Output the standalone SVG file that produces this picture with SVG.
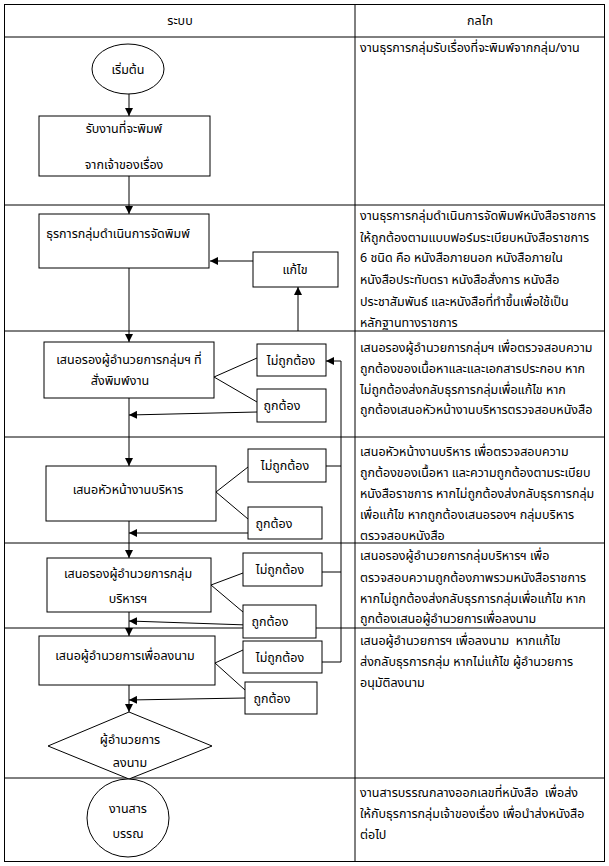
<svg xmlns="http://www.w3.org/2000/svg" width="609" height="866" viewBox="0 0 609 866">
<style>
text{font-family:"Noto Sans Thai","Tahoma","Loma","Garuda","Liberation Sans",sans-serif;font-size:12.5px;fill:#000}
.c{text-anchor:middle}
.sh{fill:#fff;stroke:#000;stroke-width:1}
.ln{fill:none;stroke:#000;stroke-width:1}
.ar{fill:none;stroke:#000;stroke-width:1;marker-end:url(#ah)}
</style>
<defs>
<marker id="ah" viewBox="0 0 10 10" refX="10" refY="5" markerWidth="8" markerHeight="8" markerUnits="userSpaceOnUse" orient="auto">
<path d="M0,0 L10,5 L0,10 z" fill="#000"/>
</marker>
</defs>
<rect width="609" height="866" fill="#fff"/>
<g id="table">
<rect x="4.5" y="4.5" width="600" height="857" class="ln"/>
<line x1="355" y1="4" x2="355" y2="862" class="ln"/>
<line x1="4" y1="37" x2="605" y2="37" class="ln"/>
<line x1="4" y1="205" x2="605" y2="205" class="ln"/>
<line x1="4" y1="331" x2="605" y2="331" class="ln"/>
<line x1="4" y1="437" x2="605" y2="437" class="ln"/>
<line x1="4" y1="543" x2="605" y2="543" class="ln"/>
<line x1="4" y1="628" x2="605" y2="628" class="ln"/>
<line x1="4" y1="778" x2="605" y2="778" class="ln"/>
<text x="180" y="25" class="c">ระบบ</text>
<text x="480" y="25" class="c">กลไก</text>
</g>
<g id="connectors">
<line x1="129" y1="94" x2="129" y2="116" class="ar"/>
<line x1="129" y1="176" x2="129" y2="214" class="ar"/>
<line x1="129" y1="268" x2="129" y2="342" class="ar"/>
<line x1="129" y1="398" x2="129" y2="466" class="ar"/>
<line x1="129" y1="521" x2="129" y2="558" class="ar"/>
<line x1="129" y1="612" x2="129" y2="636" class="ar"/>
<line x1="129" y1="685" x2="129" y2="712" class="ar"/>
<line x1="253" y1="261" x2="210" y2="261" class="ar"/>
<line x1="298" y1="331" x2="298" y2="287" class="ar"/>
<line x1="214" y1="377" x2="257" y2="358" class="ln"/>
<line x1="214" y1="377" x2="257" y2="402" class="ln"/>
<line x1="257" y1="412" x2="129" y2="415" class="ar"/>
<line x1="216" y1="492" x2="248" y2="467" class="ln"/>
<line x1="216" y1="492" x2="248" y2="519" class="ln"/>
<line x1="248" y1="533" x2="129" y2="533" class="ar"/>
<line x1="211" y1="585" x2="243" y2="573" class="ln"/>
<line x1="211" y1="585" x2="243" y2="612" class="ln"/>
<line x1="248" y1="625" x2="129" y2="621" class="ar"/>
<line x1="215" y1="663" x2="243" y2="650" class="ln"/>
<line x1="215" y1="663" x2="245" y2="690" class="ln"/>
<line x1="245" y1="698" x2="129" y2="700" class="ar"/>
<polyline points="322,662 341,662 341,361 326,361" class="ar"/>
<line x1="326" y1="466" x2="341" y2="466" class="ln"/>
<line x1="322" y1="572" x2="341" y2="572" class="ln"/>
</g>
<g id="start"><ellipse cx="128" cy="69" rx="36" ry="25" class="sh"/><text x="128" y="74" class="c">เริ่มต้น</text></g>
<g id="receive"><rect x="39" y="116" width="171" height="60" class="sh"/><text x="124" y="133" class="c">รับงานที่จะพิมพ์</text><text x="124" y="169" class="c">จากเจ้าของเรื่อง</text></g>
<g id="print"><rect x="39" y="214" width="170" height="54" class="sh"/><text x="118" y="238" class="c">ธุรการกลุ่มดำเนินการจัดพิมพ์</text></g>
<g id="fix"><rect x="253" y="252" width="85" height="35" class="sh"/><text x="295" y="274" class="c">แก้ไข</text></g>
<g id="deputy"><rect x="44" y="342" width="170" height="56" class="sh"/><text x="129" y="364" class="c">เสนอรองผู้อำนวยการกลุ่มฯ ที่</text><text x="120" y="385" class="c">สั่งพิมพ์งาน</text></g>
<g id="no1"><rect x="257" y="344" width="69" height="32" class="sh"/><text x="291" y="365" class="c">ไม่ถูกต้อง</text></g>
<g id="ok1"><rect x="257" y="389" width="69" height="33" class="sh"/><text x="282" y="410" class="c">ถูกต้อง</text></g>
<g id="head"><rect x="46" y="466" width="170" height="55" class="sh"/><text x="128" y="494" class="c">เสนอหัวหน้างานบริหาร</text></g>
<g id="no2"><rect x="248" y="449" width="78" height="33" class="sh"/><text x="285" y="470" class="c">ไม่ถูกต้อง</text></g>
<g id="ok2"><rect x="248" y="507" width="74" height="32" class="sh"/><text x="274" y="528" class="c">ถูกต้อง</text></g>
<g id="admin"><rect x="47" y="558" width="164" height="54" class="sh"/><text x="128" y="578" class="c">เสนอรองผู้อำนวยการกลุ่ม</text><text x="128" y="603" class="c">บริหารฯ</text></g>
<g id="no3"><rect x="243" y="553" width="79" height="33" class="sh"/><text x="280" y="574" class="c">ไม่ถูกต้อง</text></g>
<g id="ok3"><rect x="243" y="605" width="73" height="33" class="sh"/><text x="270" y="626" class="c">ถูกต้อง</text></g>
<g id="director"><rect x="39" y="636" width="176" height="49" class="sh"/><text x="125" y="660" class="c">เสนอผู้อำนวยการเพื่อลงนาม</text></g>
<g id="no4"><rect x="243" y="641" width="79" height="32" class="sh"/><text x="280" y="662" class="c">ไม่ถูกต้อง</text></g>
<g id="ok4"><rect x="245" y="682" width="72" height="32" class="sh"/><text x="272" y="703" class="c">ถูกต้อง</text></g>
<g id="sign"><polygon points="129,712 212,746 129,779 48,746" class="sh"/><text x="130" y="744" class="c">ผู้อำนวยการ</text><text x="130" y="767" class="c">ลงนาม</text></g>
<g id="saraban"><ellipse cx="128" cy="818" rx="41" ry="39" class="sh"/><text x="128" y="813" class="c">งานสาร</text><text x="128" y="838" class="c">บรรณ</text></g>
<g id="notes">
<text x="360" y="52">งานธุรการกลุ่มรับเรื่องที่จะพิมพ์จากกลุ่ม/งาน</text>
<text x="360" y="220">งานธุรการกลุ่มดำเนินการจัดพิมพ์หนังสือราชการ</text>
<text x="360" y="242">ให้ถูกต้องตามแบบฟอร์มระเบียบหนังสือราชการ</text>
<text x="360" y="262">6 ชนิด คือ หนังสือภายนอก หนังสือภายใน</text>
<text x="360" y="284">หนังสือประทับตรา หนังสือสั่งการ หนังสือ</text>
<text x="360" y="306">ประชาสัมพันธ์ และหนังสือที่ทำขึ้นเพื่อใช้เป็น</text>
<text x="360" y="327">หลักฐานทางราชการ</text>
<text x="360" y="352">เสนอรองผู้อำนวยการกลุ่มฯ เพื่อตรวจสอบความ</text>
<text x="360" y="373">ถูกต้องของเนื้อหาและและเอกสารประกอบ หาก</text>
<text x="360" y="394">ไม่ถูกต้องส่งกลับธุรการกลุ่มเพื่อแก้ไข หาก</text>
<text x="360" y="414">ถูกต้องเสนอหัวหน้างานบริหารตรวจสอบหนังสือ</text>
<text x="360" y="456">เสนอหัวหน้างานบริหาร เพื่อตรวจสอบความ</text>
<text x="360" y="477">ถูกต้องของเนื้อหา และความถูกต้องตามระเบียบ</text>
<text x="360" y="498">หนังสือราชการ หากไม่ถูกต้องส่งกลับธุรการกลุ่ม</text>
<text x="360" y="519">เพื่อแก้ไข หากถูกต้องเสนอรองฯ กลุ่มบริหาร</text>
<text x="360" y="540">ตรวจสอบหนังสือ</text>
<text x="360" y="560">เสนอรองผู้อำนวยการกลุ่มบริหารฯ เพื่อ</text>
<text x="360" y="582">ตรวจสอบความถูกต้องภาพรวมหนังสือราชการ</text>
<text x="360" y="603">หากไม่ถูกต้องส่งกลับธุรการกลุ่มเพื่อแก้ไข หาก</text>
<text x="360" y="623">ถูกต้องเสนอผู้อำนวยการเพื่อลงนาม</text>
<text x="360" y="645" xml:space="preserve">เสนอผู้อำนวยการฯ เพื่อลงนาม  หากแก้ไข</text>
<text x="360" y="666">ส่งกลับธุรการกลุ่ม หากไม่แก้ไข ผู้อำนวยการ</text>
<text x="360" y="687">อนุมัติลงนาม</text>
<text x="360" y="797" xml:space="preserve">งานสารบรรณกลางออกเลขที่หนังสือ  เพื่อส่ง</text>
<text x="360" y="818">ให้กับธุรการกลุ่มเจ้าของเรื่อง เพื่อนำส่งหนังสือ</text>
<text x="360" y="839">ต่อไป</text>
</g>
</svg>
